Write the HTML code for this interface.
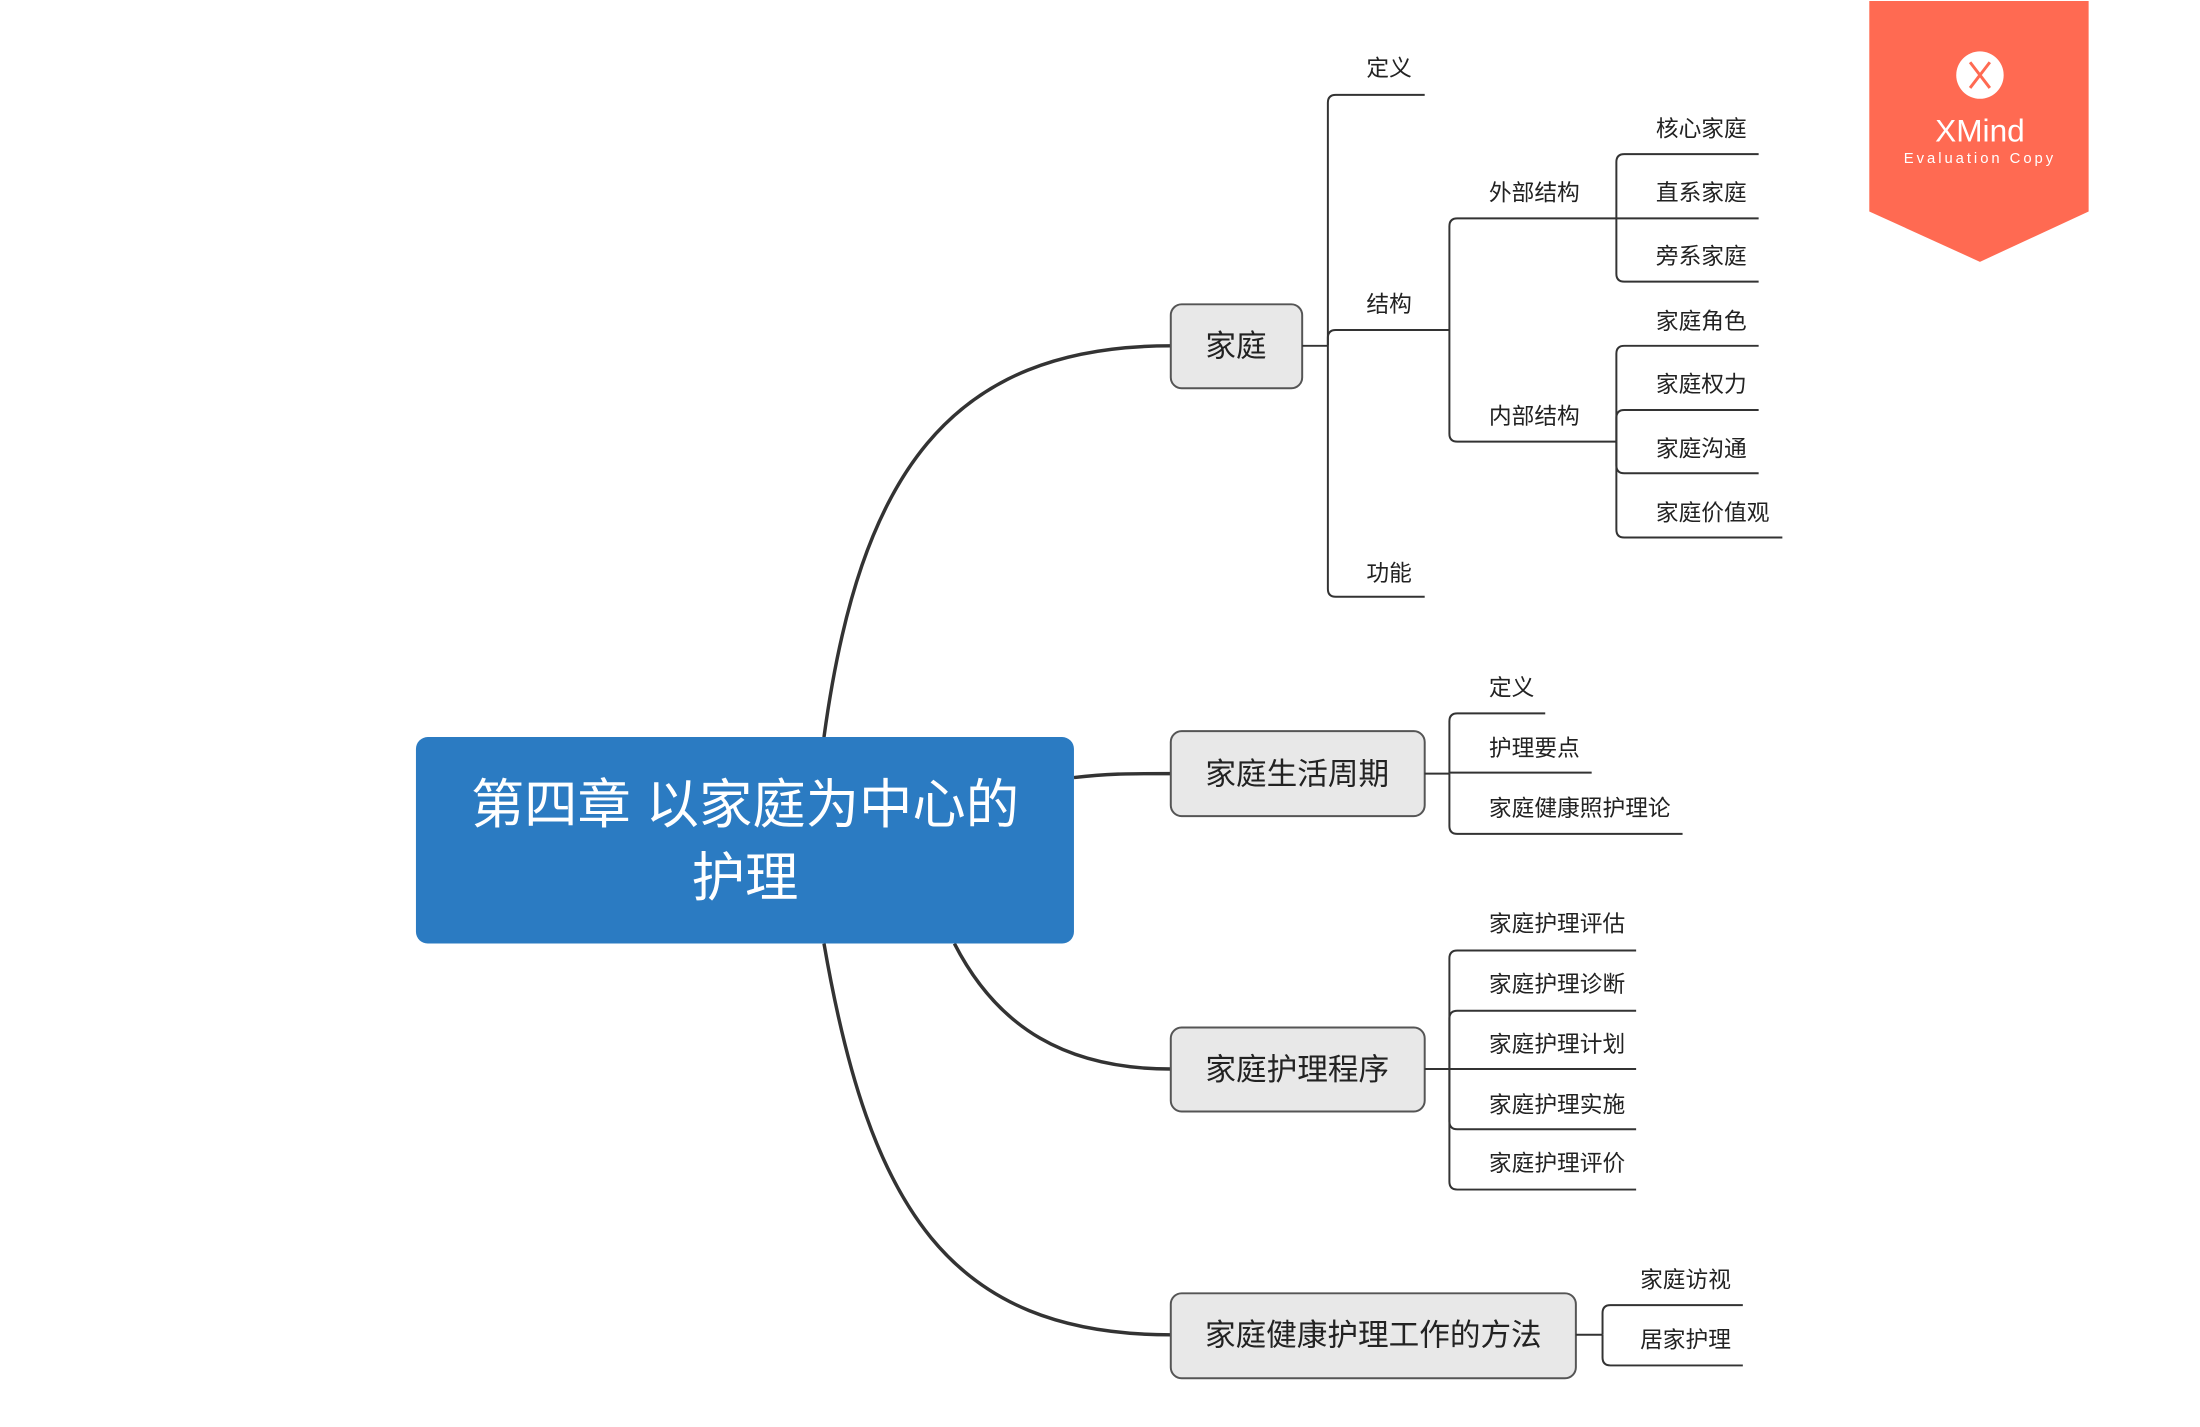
<!DOCTYPE html>
<html><head><meta charset="utf-8"><style>
html,body{margin:0;padding:0;background:#fff;}
svg{display:block;}
text{font-family:"Liberation Sans","Noto Sans CJK SC",sans-serif;fill:#222;}
</style></head><body>
<svg width="2200" height="1427" viewBox="0 0 2200 1427" xmlns="http://www.w3.org/2000/svg">
<g transform="translate(0,1) scale(0.988)">
<g fill="none" stroke="#333" stroke-width="3.5">
<path d="M834,745 C870,480 960,349 1185,349"/>
<path d="M1087,786 C1120,782 1140,782 1185,782"/>
<path d="M966,954 C1010,1040 1080,1081 1185,1081"/>
<path d="M834,954 C880,1220 960,1350 1185,1350"/>
</g>
<rect x="421" y="745" width="666" height="209" rx="12" fill="#2b7bc2"/>
<text x="754" y="832" font-size="54" text-anchor="middle" style="fill:#fff">第四章 以家庭为中心的</text>
<text x="754" y="906" font-size="54" text-anchor="middle" style="fill:#fff">护理</text>
<g fill="#e8e8e8" stroke="#555" stroke-width="2">
<rect x="1185" y="307" width="133" height="85" rx="11"/>
<rect x="1185" y="739" width="257" height="86" rx="11"/>
<rect x="1185" y="1039" width="257" height="85" rx="11"/>
<rect x="1185" y="1308" width="410" height="86" rx="11"/>
</g>
<g font-size="31" text-anchor="middle">
<text x="1251" y="360">家庭</text>
<text x="1313" y="793">家庭生活周期</text>
<text x="1313" y="1092">家庭护理程序</text>
<text x="1390" y="1361">家庭健康护理工作的方法</text>
</g>
<g fill="none" stroke="#333" stroke-width="2">
<path d="M1318,349 L1344,349"/>
<path d="M1344,349 L1344,103 Q1344,95 1352,95 L1442,95"/>
<path d="M1344,349 L1344,341 Q1344,333 1352,333 L1467,333"/>
<path d="M1344,349 L1344,595 Q1344,603 1352,603 L1442,603"/>
<path d="M1467,333 L1467,228 Q1467,220 1475,220 L1636,220"/>
<path d="M1467,333 L1467,438 Q1467,446 1475,446 L1636,446"/>
<path d="M1636,220 L1636,163 Q1636,155 1644,155 L1780,155"/>
<path d="M1636,220 L1780,220"/>
<path d="M1636,220 L1636,276 Q1636,284 1644,284 L1780,284"/>
<path d="M1636,446 L1636,357 Q1636,349 1644,349 L1780,349"/>
<path d="M1636,446 L1636,422 Q1636,414 1644,414 L1780,414"/>
<path d="M1636,446 L1636,470 Q1636,478 1644,478 L1780,478"/>
<path d="M1636,446 L1636,535 Q1636,543 1644,543 L1804,543"/>
<path d="M1442,782 L1467,782"/>
<path d="M1467,782 L1467,729 Q1467,721 1475,721 L1564,721"/>
<path d="M1467,781 L1611,781"/>
<path d="M1467,782 L1467,835 Q1467,843 1475,843 L1703,843"/>
<path d="M1442,1081 L1467,1081"/>
<path d="M1467,1081 L1467,969 Q1467,961 1475,961 L1656,961"/>
<path d="M1467,1081 L1467,1030 Q1467,1022 1475,1022 L1656,1022"/>
<path d="M1467,1081 L1656,1081"/>
<path d="M1467,1081 L1467,1134 Q1467,1142 1475,1142 L1656,1142"/>
<path d="M1467,1081 L1467,1195 Q1467,1203 1475,1203 L1656,1203"/>
<path d="M1595,1350 L1622,1350"/>
<path d="M1622,1350 L1622,1328 Q1622,1320 1630,1320 L1764,1320"/>
<path d="M1622,1350 L1622,1373 Q1622,1381 1630,1381 L1764,1381"/>
</g>
<g font-size="23">
<text x="1383" y="76">定义</text>
<text x="1383" y="315">结构</text>
<text x="1383" y="587">功能</text>
<text x="1507" y="202">外部结构</text>
<text x="1507" y="428">内部结构</text>
<text x="1676" y="137">核心家庭</text>
<text x="1676" y="202">直系家庭</text>
<text x="1676" y="266">旁系家庭</text>
<text x="1676" y="332">家庭角色</text>
<text x="1676" y="396">家庭权力</text>
<text x="1676" y="461">家庭沟通</text>
<text x="1676" y="526">家庭价值观</text>
<text x="1507" y="703">定义</text>
<text x="1507" y="764">护理要点</text>
<text x="1507" y="825">家庭健康照护理论</text>
<text x="1507" y="942">家庭护理评估</text>
<text x="1507" y="1003">家庭护理诊断</text>
<text x="1507" y="1064">家庭护理计划</text>
<text x="1507" y="1125">家庭护理实施</text>
<text x="1507" y="1184">家庭护理评价</text>
<text x="1660" y="1302">家庭访视</text>
<text x="1660" y="1363">居家护理</text>
</g>
<polygon points="1892,0 2114,0 2114,213 2004,264 1892,213" fill="#ff6a52"/>
<circle cx="2004" cy="75" r="24" fill="#fff"/>
<path d="M1994,62 L2004,75 L2014,62 M1994,88 L2004,75 L2014,88" stroke="#ff6a52" stroke-width="3" fill="none"/>
<text x="2004" y="142" font-size="32" text-anchor="middle" style="fill:#fff">XMind</text>
<text x="2004" y="164" font-size="15" text-anchor="middle" letter-spacing="3" style="fill:#fff">Evaluation Copy</text>
</g>
</svg>
</body></html>
